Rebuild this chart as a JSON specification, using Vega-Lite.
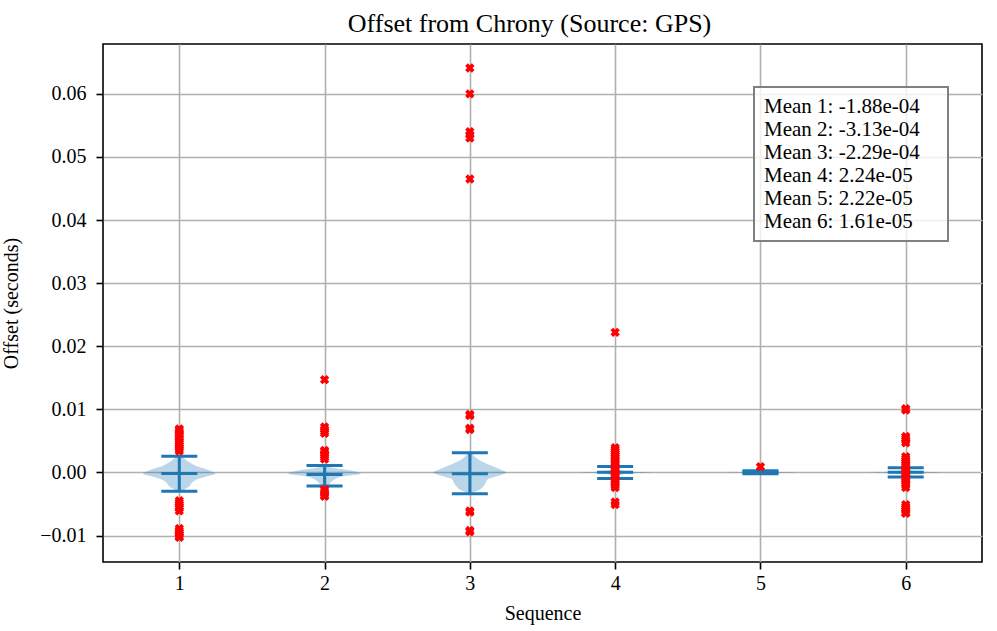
{
  "$schema": "https://vega.github.io/schema/vega-lite/v6.json",
  "width": 879,
  "height": 518,
  "autosize": {"type": "none"},
  "padding": {"left": 103, "top": 44, "right": 15, "bottom": 69},
  "background": "white",
  "title": {"text": "Offset from Chrony (Source: GPS)", "dx": -13},
  "datasets": {
    "violin": [
      {"seq": 1, "y": 0.0026, "lo": 0.986, "hi": 1.014},
      {"seq": 1, "y": 0.0022, "lo": 0.966, "hi": 1.034},
      {"seq": 1, "y": 0.0018, "lo": 0.945, "hi": 1.055},
      {"seq": 1, "y": 0.0014, "lo": 0.917, "hi": 1.083},
      {"seq": 1, "y": 0.0010, "lo": 0.883, "hi": 1.117},
      {"seq": 1, "y": 0.0006, "lo": 0.828, "hi": 1.172},
      {"seq": 1, "y": 0.0002, "lo": 0.780, "hi": 1.220},
      {"seq": 1, "y": -0.0002, "lo": 0.750, "hi": 1.250},
      {"seq": 1, "y": -0.0006, "lo": 0.807, "hi": 1.193},
      {"seq": 1, "y": -0.0011, "lo": 0.876, "hi": 1.124},
      {"seq": 1, "y": -0.0016, "lo": 0.911, "hi": 1.089},
      {"seq": 1, "y": -0.0022, "lo": 0.931, "hi": 1.069},
      {"seq": 1, "y": -0.0027, "lo": 0.966, "hi": 1.034},
      {"seq": 1, "y": -0.0030, "lo": 0.986, "hi": 1.014},
      {"seq": 2, "y": 0.0011, "lo": 1.986, "hi": 2.014},
      {"seq": 2, "y": 0.0009, "lo": 1.972, "hi": 2.028},
      {"seq": 2, "y": 0.0007, "lo": 1.938, "hi": 2.062},
      {"seq": 2, "y": 0.0005, "lo": 1.876, "hi": 2.124},
      {"seq": 2, "y": 0.0003, "lo": 1.821, "hi": 2.179},
      {"seq": 2, "y": 0.0001, "lo": 1.780, "hi": 2.220},
      {"seq": 2, "y": -0.0002, "lo": 1.750, "hi": 2.250},
      {"seq": 2, "y": -0.0005, "lo": 1.835, "hi": 2.165},
      {"seq": 2, "y": -0.0008, "lo": 1.904, "hi": 2.096},
      {"seq": 2, "y": -0.0012, "lo": 1.938, "hi": 2.062},
      {"seq": 2, "y": -0.0016, "lo": 1.959, "hi": 2.041},
      {"seq": 2, "y": -0.0020, "lo": 1.972, "hi": 2.028},
      {"seq": 2, "y": -0.0023, "lo": 1.986, "hi": 2.014},
      {"seq": 3, "y": 0.0031, "lo": 2.986, "hi": 3.014},
      {"seq": 3, "y": 0.0028, "lo": 2.979, "hi": 3.021},
      {"seq": 3, "y": 0.0021, "lo": 2.945, "hi": 3.055},
      {"seq": 3, "y": 0.0013, "lo": 2.876, "hi": 3.124},
      {"seq": 3, "y": 0.0005, "lo": 2.794, "hi": 3.206},
      {"seq": 3, "y": 0.0000, "lo": 2.750, "hi": 3.250},
      {"seq": 3, "y": -0.0006, "lo": 2.814, "hi": 3.186},
      {"seq": 3, "y": -0.0011, "lo": 2.876, "hi": 3.124},
      {"seq": 3, "y": -0.0019, "lo": 2.897, "hi": 3.103},
      {"seq": 3, "y": -0.0027, "lo": 2.931, "hi": 3.069},
      {"seq": 3, "y": -0.0032, "lo": 2.979, "hi": 3.021},
      {"seq": 3, "y": -0.0034, "lo": 2.993, "hi": 3.007},
      {"seq": 4, "y": 0.00095, "lo": 3.993, "hi": 4.007},
      {"seq": 4, "y": 0.0005, "lo": 3.979, "hi": 4.021},
      {"seq": 4, "y": 0.0002, "lo": 3.917, "hi": 4.083},
      {"seq": 4, "y": 0.0000, "lo": 3.750, "hi": 4.250},
      {"seq": 4, "y": -0.0002, "lo": 3.917, "hi": 4.083},
      {"seq": 4, "y": -0.0005, "lo": 3.979, "hi": 4.021},
      {"seq": 4, "y": -0.00095, "lo": 3.993, "hi": 4.007},
      {"seq": 5, "y": 0.00025, "lo": 4.993, "hi": 5.007},
      {"seq": 5, "y": 0.0001, "lo": 4.900, "hi": 5.100},
      {"seq": 5, "y": 0.00002, "lo": 4.750, "hi": 5.250},
      {"seq": 5, "y": -0.0001, "lo": 4.900, "hi": 5.100},
      {"seq": 5, "y": -0.0002, "lo": 4.993, "hi": 5.007},
      {"seq": 6, "y": 0.00074, "lo": 5.993, "hi": 6.007},
      {"seq": 6, "y": 0.0004, "lo": 5.972, "hi": 6.028},
      {"seq": 6, "y": 0.00015, "lo": 5.897, "hi": 6.103},
      {"seq": 6, "y": 0.0000, "lo": 5.750, "hi": 6.250},
      {"seq": 6, "y": -0.00015, "lo": 5.897, "hi": 6.103},
      {"seq": 6, "y": -0.0004, "lo": 5.972, "hi": 6.028},
      {"seq": 6, "y": -0.00074, "lo": 5.993, "hi": 6.007}
    ],
    "summary": [
      {"seq": 1, "min": -0.0030, "mean": -0.000188, "max": 0.00258},
      {"seq": 2, "min": -0.00217, "mean": -0.000313, "max": 0.0011},
      {"seq": 3, "min": -0.0034, "mean": -0.000229, "max": 0.0031},
      {"seq": 4, "min": -0.00095, "mean": 0.0000224, "max": 0.00095},
      {"seq": 5, "min": -0.0002, "mean": 0.0000222, "max": 0.00025},
      {"seq": 6, "min": -0.00074, "mean": 0.0000161, "max": 0.00074}
    ],
    "outliers": [
      {"seq": 1, "offset": 0.0034}, {"seq": 1, "offset": 0.0037}, {"seq": 1, "offset": 0.0040}, {"seq": 1, "offset": 0.0043},
      {"seq": 1, "offset": 0.0046}, {"seq": 1, "offset": 0.0049}, {"seq": 1, "offset": 0.0052}, {"seq": 1, "offset": 0.0055},
      {"seq": 1, "offset": 0.0058}, {"seq": 1, "offset": 0.0061}, {"seq": 1, "offset": 0.0064}, {"seq": 1, "offset": 0.0067},
      {"seq": 1, "offset": 0.0069},
      {"seq": 1, "offset": -0.0045}, {"seq": 1, "offset": -0.0048}, {"seq": 1, "offset": -0.0051}, {"seq": 1, "offset": -0.0054},
      {"seq": 1, "offset": -0.0057}, {"seq": 1, "offset": -0.0061},
      {"seq": 1, "offset": -0.0089}, {"seq": 1, "offset": -0.0092}, {"seq": 1, "offset": -0.0095}, {"seq": 1, "offset": -0.0098},
      {"seq": 1, "offset": -0.0101}, {"seq": 1, "offset": -0.0103},
      {"seq": 2, "offset": 0.0147},
      {"seq": 2, "offset": 0.0062}, {"seq": 2, "offset": 0.0065}, {"seq": 2, "offset": 0.0068}, {"seq": 2, "offset": 0.0072},
      {"seq": 2, "offset": 0.0021}, {"seq": 2, "offset": 0.0024}, {"seq": 2, "offset": 0.0027}, {"seq": 2, "offset": 0.0030},
      {"seq": 2, "offset": 0.0033}, {"seq": 2, "offset": 0.0035},
      {"seq": 2, "offset": -0.0027}, {"seq": 2, "offset": -0.0030}, {"seq": 2, "offset": -0.0033}, {"seq": 2, "offset": -0.0036},
      {"seq": 2, "offset": -0.0038},
      {"seq": 3, "offset": 0.0641}, {"seq": 3, "offset": 0.0600}, {"seq": 3, "offset": 0.0540}, {"seq": 3, "offset": 0.0535},
      {"seq": 3, "offset": 0.0530}, {"seq": 3, "offset": 0.0465}, {"seq": 3, "offset": 0.0092}, {"seq": 3, "offset": 0.0090},
      {"seq": 3, "offset": 0.0070}, {"seq": 3, "offset": 0.0068}, {"seq": 3, "offset": -0.0061}, {"seq": 3, "offset": -0.0063},
      {"seq": 3, "offset": -0.0092}, {"seq": 3, "offset": -0.0094},
      {"seq": 4, "offset": 0.0222},
      {"seq": 4, "offset": 0.0039}, {"seq": 4, "offset": 0.0036}, {"seq": 4, "offset": 0.0033}, {"seq": 4, "offset": 0.0030},
      {"seq": 4, "offset": 0.0027}, {"seq": 4, "offset": 0.0024}, {"seq": 4, "offset": 0.0021}, {"seq": 4, "offset": 0.0018},
      {"seq": 4, "offset": 0.0015}, {"seq": 4, "offset": 0.0012}, {"seq": 4, "offset": 0.0009}, {"seq": 4, "offset": 0.0006},
      {"seq": 4, "offset": 0.0003}, {"seq": 4, "offset": 0.0000}, {"seq": 4, "offset": -0.0003}, {"seq": 4, "offset": -0.0006},
      {"seq": 4, "offset": -0.0009}, {"seq": 4, "offset": -0.0012}, {"seq": 4, "offset": -0.0015}, {"seq": 4, "offset": -0.0018},
      {"seq": 4, "offset": -0.0021}, {"seq": 4, "offset": -0.0024},
      {"seq": 4, "offset": -0.0047}, {"seq": 4, "offset": -0.0051},
      {"seq": 5, "offset": 0.0009},
      {"seq": 6, "offset": 0.0101}, {"seq": 6, "offset": 0.0099},
      {"seq": 6, "offset": 0.0057}, {"seq": 6, "offset": 0.0054}, {"seq": 6, "offset": 0.0051}, {"seq": 6, "offset": 0.0047},
      {"seq": 6, "offset": 0.0025}, {"seq": 6, "offset": 0.0022}, {"seq": 6, "offset": 0.0019}, {"seq": 6, "offset": 0.0016},
      {"seq": 6, "offset": 0.0013}, {"seq": 6, "offset": 0.0010}, {"seq": 6, "offset": 0.0007}, {"seq": 6, "offset": 0.0004},
      {"seq": 6, "offset": 0.0001}, {"seq": 6, "offset": -0.0002}, {"seq": 6, "offset": -0.0005}, {"seq": 6, "offset": -0.0008},
      {"seq": 6, "offset": -0.0011}, {"seq": 6, "offset": -0.0014}, {"seq": 6, "offset": -0.0017}, {"seq": 6, "offset": -0.0020},
      {"seq": 6, "offset": -0.0024},
      {"seq": 6, "offset": -0.0051}, {"seq": 6, "offset": -0.0054}, {"seq": 6, "offset": -0.0057}, {"seq": 6, "offset": -0.0060},
      {"seq": 6, "offset": -0.0063}, {"seq": 6, "offset": -0.0065}
    ],
    "means": [
      {"label": "Mean 1: -1.88e-04"},
      {"label": "Mean 2: -3.13e-04"},
      {"label": "Mean 3: -2.29e-04"},
      {"label": "Mean 4: 2.24e-05"},
      {"label": "Mean 5: 2.22e-05"},
      {"label": "Mean 6: 1.61e-05"}
    ]
  },
  "layer": [
    {
      "data": {"name": "violin"},
      "mark": {"type": "area", "orient": "horizontal", "interpolate": "catmull-rom", "color": "#1f77b4", "opacity": 0.3},
      "encoding": {
        "y": {"field": "y", "type": "quantitative", "title": "Offset (seconds)",
              "scale": {"domain": [-0.0142, 0.0679], "nice": false, "zero": false},
              "axis": {"values": [-0.01, 0, 0.01, 0.02, 0.03, 0.04, 0.05, 0.06], "format": ".2f"}},
        "x": {"field": "lo", "type": "quantitative", "title": "Sequence",
              "scale": {"domain": [0.475, 6.525], "nice": false, "zero": false},
              "axis": {"values": [1, 2, 3, 4, 5, 6], "format": "d"}},
        "x2": {"field": "hi"},
        "detail": {"field": "seq"}
      }
    },
    {
      "data": {"name": "summary"},
      "mark": {"type": "rule", "color": "#1f77b4", "strokeWidth": 3},
      "encoding": {
        "x": {"field": "seq", "type": "quantitative", "title": "Sequence"},
        "y": {"field": "min", "type": "quantitative", "title": "Offset (seconds)"},
        "y2": {"field": "max"}
      }
    },
    {
      "data": {"name": "summary"},
      "mark": {"type": "tick", "orient": "horizontal", "color": "#1f77b4", "size": 36, "thickness": 3, "opacity": 1},
      "encoding": {
        "x": {"field": "seq", "type": "quantitative", "title": "Sequence"},
        "y": {"field": "min", "type": "quantitative", "title": "Offset (seconds)"}
      }
    },
    {
      "data": {"name": "summary"},
      "mark": {"type": "tick", "orient": "horizontal", "color": "#1f77b4", "size": 36, "thickness": 3, "opacity": 1},
      "encoding": {
        "x": {"field": "seq", "type": "quantitative", "title": "Sequence"},
        "y": {"field": "mean", "type": "quantitative", "title": "Offset (seconds)"}
      }
    },
    {
      "data": {"name": "summary"},
      "mark": {"type": "tick", "orient": "horizontal", "color": "#1f77b4", "size": 36, "thickness": 3, "opacity": 1},
      "encoding": {
        "x": {"field": "seq", "type": "quantitative", "title": "Sequence"},
        "y": {"field": "max", "type": "quantitative", "title": "Offset (seconds)"}
      }
    },
    {
      "data": {"name": "outliers"},
      "mark": {"type": "point", "shape": "cross", "angle": 45, "filled": true, "color": "red", "size": 90, "opacity": 1},
      "encoding": {
        "x": {"field": "seq", "type": "quantitative", "title": "Sequence"},
        "y": {"field": "offset", "type": "quantitative", "title": "Offset (seconds)"}
      }
    },
    {
      "data": {"name": "means"},
      "mark": {"type": "point", "opacity": 0, "filled": true, "size": 1},
      "encoding": {
        "color": {"field": "label", "type": "nominal",
                  "scale": {"range": ["white"]},
                  "legend": {"orient": "none", "legendX": 651, "legendY": 43,
                             "title": " ", "titleOrient": "right", "titlePadding": 19, "titleFontSize": 20,
                             "symbolSize": 1, "symbolOpacity": 0, "symbolStrokeWidth": 0.01, "labelOffset": -20}}
      }
    }
  ],
  "config": {
    "font": "Liberation Serif",
    "view": {"stroke": "black", "strokeWidth": 1.6},
    "axis": {
      "grid": true, "gridColor": "#b0b0b0", "gridWidth": 1.6, "gridOpacity": 1,
      "domain": false,
      "tickColor": "black", "tickSize": 7, "tickWidth": 1.6,
      "labelFont": "Liberation Serif", "labelFontSize": 20, "labelColor": "black",
      "titleFont": "Liberation Serif", "titleFontSize": 20, "titleFontWeight": "normal", "titleColor": "black"
    },
    "axisX": {"labelPadding": 4, "titlePadding": 10},
    "axisY": {"labelPadding": 10, "titlePadding": 18},
    "legend": {
      "labelFont": "Liberation Serif", "labelFontSize": 21, "labelColor": "black", "labelLimit": 400,
      "rowPadding": 1, "padding": 9,
      "fillColor": "rgba(255,255,255,0.8)", "strokeColor": "#808080", "strokeWidth": 2
    },
    "title": {"font": "Liberation Serif", "fontSize": 26, "fontWeight": "normal", "color": "black", "offset": 7}
  }
}
